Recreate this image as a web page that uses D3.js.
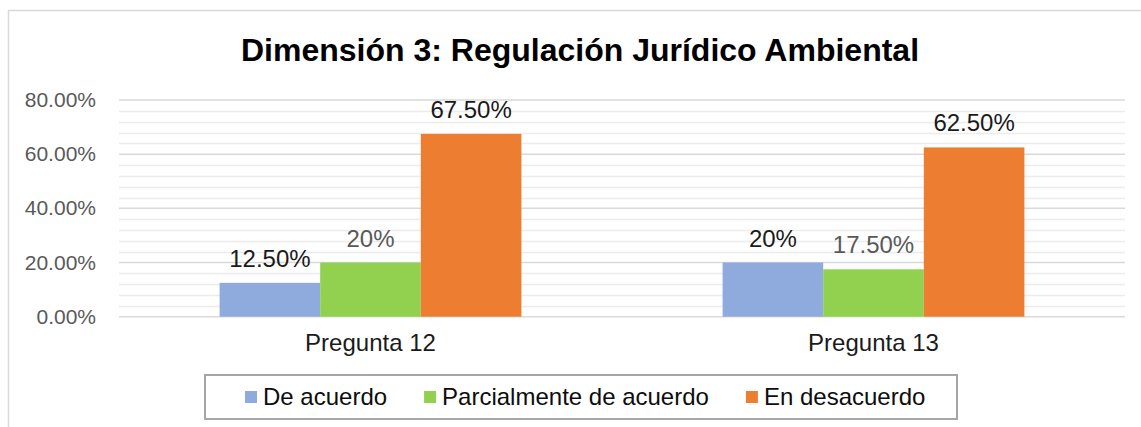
<!DOCTYPE html>
<html>
<head>
<meta charset="utf-8">
<script src="https://cdn.jsdelivr.net/npm/d3@7"></script>
<style>
  body { margin: 0; background: #fff; }
  svg { display: block; font-family: "Liberation Sans", Arial, sans-serif; }
</style>
</head>
<body>
<svg width="1141" height="427"></svg>
<script>
const categories = ["Pregunta 12", "Pregunta 13"];
const series = ["De acuerdo", "Parcialmente de acuerdo", "En desacuerdo"];
const deAcuerdo = [0.125, 0.20];
const parcialmente = [0.20, 0.175];
const desacuerdo = [0.675, 0.625];
const labels = [["12.50%", "20%", "67.50%"], ["20%", "17.50%", "62.50%"]];
const yTicks = [0, 0.2, 0.4, 0.6, 0.8];

const colors = ["#8faadc", "#92d050", "#ed7d31"];
const labelColors = ["#1a1a1a", "#595959", "#1a1a1a"];

const svg = d3.select("svg");

// chart frame (goes past the right and bottom edge)
svg.append("rect")
    .attr("x", 8.5).attr("y", 10.5)
    .attr("width", 1300).attr("height", 600)
    .attr("fill", "none").attr("stroke", "#d9d9d9").attr("stroke-width", 1.5);

svg.append("text")
    .attr("x", 580).attr("y", 61)
    .attr("text-anchor", "middle")
    .attr("font-size", 32).attr("font-weight", 700)
    .attr("fill", "#000")
    .text("Dimensión 3: Regulación Jurídico Ambiental");

const plotLeft = 119, plotRight = 1125, plotTop = 100, plotBottom = 316.7;

const x0 = d3.scaleBand().domain(categories).range([plotLeft, plotRight]).padding(0);
const x1 = d3.scaleBand().domain(series).range([0, x0.bandwidth()]).paddingInner(0).paddingOuter(1);
const y = d3.scaleLinear().domain([0, 0.8]).range([plotBottom, plotTop]);

// minor gridlines every 4%
svg.append("g")
    .selectAll("line")
    .data(d3.range(1, 20).map(i => i * 0.04).filter(v => Math.round(v * 100) % 20 !== 0))
    .join("line")
    .attr("x1", plotLeft).attr("x2", plotRight)
    .attr("y1", d => Math.round(y(d)) + 0.5).attr("y2", d => Math.round(y(d)) + 0.5)
    .attr("stroke", "#ececec").attr("stroke-width", 1.5);

// major gridlines + tick labels
const yAxis = svg.append("g");
yAxis.selectAll("line")
    .data(yTicks)
    .join("line")
    .attr("x1", plotLeft).attr("x2", plotRight)
    .attr("y1", d => y(d)).attr("y2", d => y(d))
    .attr("stroke", "#d9d9d9").attr("stroke-width", 1.5);
yAxis.selectAll("text")
    .data(yTicks)
    .join("text")
    .attr("x", 96).attr("y", d => y(d) + 7)
    .attr("text-anchor", "end")
    .attr("font-size", 21).attr("fill", "#595959")
    .text(d => d3.format(".2%")(d));

const rows = categories.map((c, i) => ({
    cat: i,
    values: [deAcuerdo[i], parcialmente[i], desacuerdo[i]]
}));

const groups = svg.append("g")
    .selectAll("g")
    .data(rows)
    .join("g")
    .attr("transform", d => `translate(${x0(categories[d.cat])},0)`);

groups.selectAll("rect")
    .data(d => d.values.map((v, j) => ({ v, j, cat: d.cat })))
    .join("rect")
    .attr("x", d => x1(series[d.j]))
    .attr("width", x1.bandwidth())
    .attr("y", d => y(d.v))
    .attr("height", d => y(0) - y(d.v))
    .attr("fill", d => colors[d.j]);

groups.selectAll("text")
    .data(d => d.values.map((v, j) => ({ v, j, cat: d.cat })))
    .join("text")
    .attr("x", d => x1(series[d.j]) + x1.bandwidth() / 2)
    .attr("y", d => y(d.v) - 16)
    .attr("text-anchor", "middle")
    .attr("font-size", 24)
    .attr("fill", d => labelColors[d.j])
    .text(d => labels[d.cat][d.j]);

// category labels
svg.append("g")
    .selectAll("text")
    .data(categories)
    .join("text")
    .attr("x", d => x0(d) + x0.bandwidth() / 2)
    .attr("y", 351)
    .attr("text-anchor", "middle")
    .attr("font-size", 24).attr("fill", "#1a1a1a")
    .text(d => d);

// legend
const legend = svg.append("g");
legend.append("rect")
    .attr("x", 205).attr("y", 375)
    .attr("width", 752).attr("height", 44)
    .attr("fill", "#fff").attr("stroke", "#a6a6a6").attr("stroke-width", 2);

let lx = 245;
series.forEach((s, i) => {
    legend.append("rect")
        .attr("x", lx).attr("y", 391)
        .attr("width", 12).attr("height", 12)
        .attr("fill", colors[i]);
    const t = legend.append("text")
        .attr("x", lx + 18).attr("y", 405)
        .attr("font-size", 24).attr("fill", "#0d0d0d")
        .text(s);
    lx += 18 + t.node().getComputedTextLength() + 37;
});
</script>
</body>
</html>
